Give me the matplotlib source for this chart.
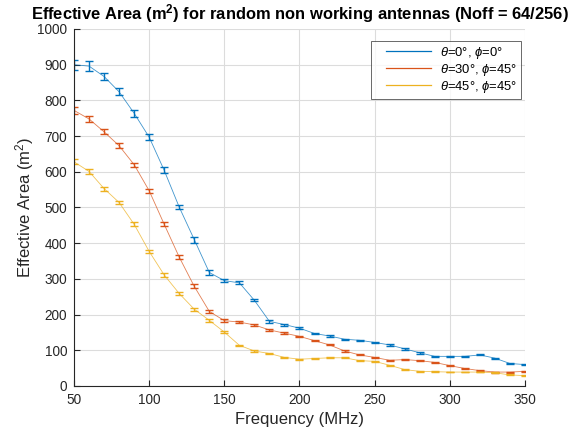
import numpy as np
import matplotlib
matplotlib.use("Agg")
import matplotlib.pyplot as plt
from matplotlib.legend_handler import HandlerLine2D

plt.rcParams['font.family'] = ['Liberation Sans', 'DejaVu Sans']
plt.rcParams['mathtext.fontset'] = 'custom'
plt.rcParams['mathtext.it'] = 'Liberation Sans:italic'
plt.rcParams['mathtext.rm'] = 'Liberation Sans'
plt.rcParams['mathtext.bf'] = 'Liberation Sans:bold'

freq = np.arange(50, 351, 10)

area_0_0 = [900, 896, 867, 824, 764, 697, 604, 501, 410, 318, 295, 289, 240, 181,
            172, 162, 147, 140, 131, 128, 122, 115, 104, 93, 83, 83, 83, 87, 78, 63, 60]
err_0_0 = [14, 13, 10, 10, 10, 9, 8.5, 6.5, 8.5, 6.5, 5, 4.7, 3.3, 4.5,
           3, 2, 2, 2, 2, 2, 2, 2, 2, 2, 1.5, 1.5, 1.5, 1.5, 1.5, 1.5, 1.5]

area_30_45 = [772, 748, 712, 673, 620, 547, 453, 361, 279, 209, 183, 179, 171, 157,
              148, 139, 127, 115, 98, 87, 80, 72, 74, 71, 66, 57, 49, 43, 39, 39, 41]
err_30_45 = [10, 9.5, 7.5, 7, 6, 6, 5, 5, 5.5, 4, 4, 3.7, 2, 2,
             2, 1.5, 1.5, 1.5, 1.5, 1.5, 1.5, 1.5, 1.5, 1.5, 1.5, 1.5, 1.5, 1.5, 1.5, 1.5, 1.5]

area_45_45 = [628, 601, 553, 514, 453, 377, 311, 259, 215, 184, 151, 114, 98, 91,
              80, 75, 77, 79, 79, 71, 69, 58, 46, 41, 40, 39, 39, 39, 37, 31, 29]
err_45_45 = [6.5, 6.5, 5.5, 4.7, 5.5, 3.7, 4.7, 4.7, 4.7, 3.7, 2, 1.5, 1.5, 1.5,
             1.2, 1.2, 1.2, 1.2, 1.2, 1.2, 1.2, 1.2, 1.2, 1.2, 1.2, 1.2, 1.2, 1.2, 1.2, 1.2, 1.2]

series = [
    (area_0_0, err_0_0, '#0072BD', r'$\theta$=0°, $\phi$=0°'),
    (area_30_45, err_30_45, '#D95319', r'$\theta$=30°, $\phi$=45°'),
    (area_45_45, err_45_45, '#EDB120', r'$\theta$=45°, $\phi$=45°'),
]


class InsetLineHandler(HandlerLine2D):
    """Legend line that leaves a margin on the left of the handle box."""
    def get_xdata(self, legend, xdescent, ydescent, width, height, fontsize):
        start = -xdescent + 0.2 * width
        xdata = np.array([start, -xdescent + width])
        return xdata, xdata


fig = plt.figure(figsize=(5.71, 4.32), dpi=100)
ax = fig.add_axes([0.1296, 0.1065, 0.7898, 0.8264])

handles = []
for y, e, c, lab in series:
    ax.plot(freq, y, color=c, lw=0.6, alpha=0.75)
    ax.errorbar(freq, y, yerr=e, fmt='none', ecolor=c, elinewidth=1.0,
                capsize=3.2, capthick=1.0)
    handles.append(plt.Line2D([], [], color=c, lw=0.9))

ax.set_xlim(50, 350)
ax.set_ylim(0, 1000)
ax.set_xticks(np.arange(50, 351, 50))
ax.set_yticks(np.arange(0, 1001, 100))
ax.grid(True, color='#dcdcdc', lw=0.8)
ax.set_axisbelow(True)
for s in ['top', 'right']:
    ax.spines[s].set_visible(False)
for s in ['left', 'bottom']:
    ax.spines[s].set_color('#262626')
    ax.spines[s].set_linewidth(0.8)
ax.tick_params(direction='in', length=4, width=0.8, colors='#262626',
               labelsize=9.8, pad=5)

ax.set_xlabel('Frequency (MHz)', fontsize=12, color='#262626', labelpad=4)
ax.set_ylabel('Effective Area (m$^2$)', fontsize=12, color='#262626', labelpad=1)
ax.set_title(r'Effective Area (m$^\mathbf{2}$) for random non working antennas (Noff = 64/256)',
             fontsize=11.9, fontweight='bold', pad=7)

leg = ax.legend(handles, [s[3] for s in series], loc='upper right',
                bbox_to_anchor=(0.991, 0.966), borderaxespad=0, fontsize=9.4,
                frameon=True, fancybox=False, edgecolor='#262626',
                handlelength=4.34, borderpad=0.28, labelspacing=0.08,
                handletextpad=0.69,
                handler_map={plt.Line2D: InsetLineHandler()})
leg.get_frame().set_linewidth(0.6)

fig.savefig('out.png', dpi=100)
